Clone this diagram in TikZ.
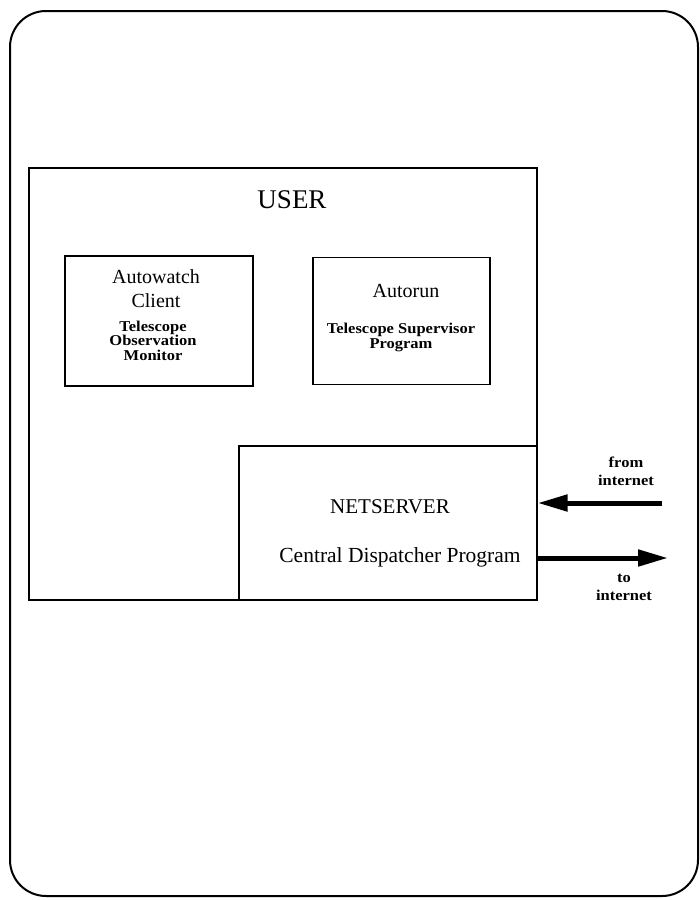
\documentclass[tikz,border=0pt]{standalone}
\usepackage{fontspec}
\setmainfont{Liberation Serif}
\newfontfamily\widebold[FakeStretch=1.1]{Liberation Serif}
\usetikzlibrary{arrows.meta}
\tikzset{
  box/.style={draw, line width=1.3pt, inner sep=0pt},
  bigtxt/.style={anchor=base, inner sep=0pt, font=\fontsize{20}{22}\selectfont},
  smalltxt/.style={anchor=base, inner sep=0pt, align=center, font=\widebold\fontsize{15}{14.5}\selectfont\bfseries},
  lbltxt/.style={anchor=base, inner sep=0pt, align=center, font=\widebold\fontsize{15}{18}\selectfont\bfseries},
  fatarrow/.style={line width=5pt, -{Triangle[length=30pt,width=16pt]}}
}
\begin{document}
\begin{tikzpicture}[x=1pt,y=-1pt]
\useasboundingbox (0,0) rectangle (700,900);
% outer frame
\draw[line width=2pt, rounded corners=36pt] (10,11) rectangle (698,896);
% USER box
\node[box, minimum width=508pt, minimum height=432pt] (user) at (283,384) {};
\node[bigtxt, font=\fontsize{27}{30}\selectfont] (usertitle) at (292,208) {USER};
% Autowatch box
\node[box, minimum width=188pt, minimum height=130pt] (aw) at (159,321) {};
\node[bigtxt, align=center, font=\fontsize{20}{24}\selectfont] (aw1) at (156,307) {Autowatch\\Client};
\node[smalltxt] (aw3) at (153,360) {Telescope\\Observation\\Monitor};
% Autorun box
\node[box, minimum width=177pt, minimum height=127pt] (ar) at (401.5,321) {};
\node[bigtxt] (ar1) at (406,297) {Autorun};
\node[smalltxt] (ar2) at (401,348) {Telescope Supervisor\\Program};
% NETSERVER box
\node[box, minimum width=298pt, minimum height=154pt] (ns) at (388,523) {};
\node[bigtxt, font=\fontsize{21}{23}\selectfont] (ns1) at (390,513) {NETSERVER};
\node[bigtxt, font=\fontsize{21.5}{23}\selectfont] (ns2) at (400,562) {Central Dispatcher Program};
% arrows
\coordinate (fromext) at (662,503);
\coordinate (toext) at (668,558);
\draw[fatarrow] (fromext) -- (fromext -| ns.east);
\draw[fatarrow] (toext -| ns.east) -- (toext);
\node[lbltxt] (lf) at (626,485) {from\\internet};
\node[lbltxt] (lt) at (624,600) {to\\internet};
\end{tikzpicture}
\end{document}
